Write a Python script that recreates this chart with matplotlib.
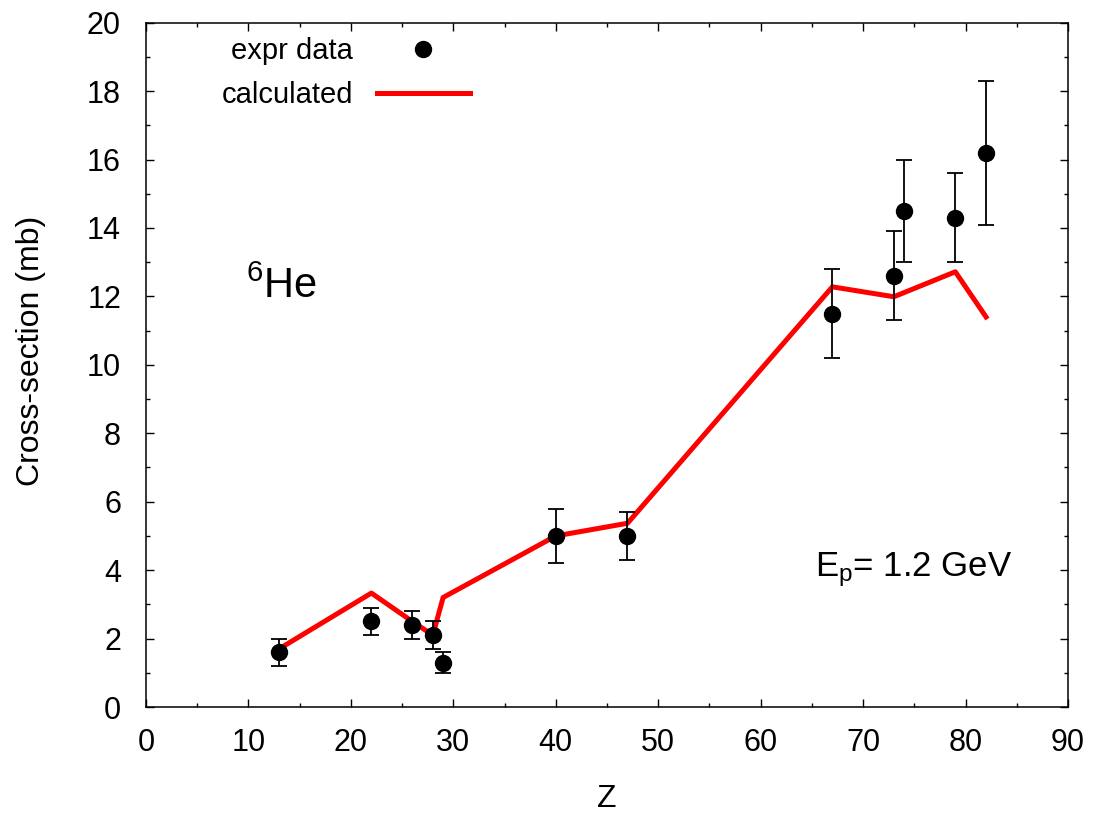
import numpy as np
import matplotlib.pyplot as plt
from matplotlib.ticker import MultipleLocator

plt.rcParams['font.family'] = ['Liberation Sans', 'DejaVu Sans']
plt.rcParams['mathtext.fontset'] = 'custom'
plt.rcParams['mathtext.rm'] = 'Liberation Sans'
plt.rcParams['mathtext.it'] = 'Liberation Sans:italic'

# experimental points
z_expr = [13, 22, 26, 28, 29, 40, 47, 67, 73, 74, 79, 82]
sigma_expr = [1.6, 2.5, 2.4, 2.1, 1.3, 5.0, 5.0, 11.5, 12.6, 14.5, 14.3, 16.2]
sigma_err = [0.4, 0.4, 0.4, 0.4, 0.3, 0.8, 0.7, 1.3, 1.3, 1.5, 1.3, 2.1]

# calculated curve
z_calc = [13, 22, 26, 28, 29, 40, 47, 67, 73, 79, 82]
sigma_calc = [1.7, 3.33, 2.5, 2.1, 3.2, 5.0, 5.37, 12.28, 11.99, 12.72, 11.4]

fig = plt.figure(figsize=(10.94, 8.13), dpi=100)
ax = fig.add_axes([146/1094, 106/813, 922/1094, 684.3/813])

calc_line, = ax.plot(z_calc, sigma_calc, color='red', lw=3.6, zorder=2)
eb = ax.errorbar(z_expr, sigma_expr, yerr=sigma_err, fmt='o', color='black',
                 ms=11.5, elinewidth=1.3, capsize=5.5, capthick=1.3, zorder=3)

ax.set_xlim(0, 90)
ax.set_ylim(0, 20)
ax.xaxis.set_major_locator(MultipleLocator(10))
ax.xaxis.set_minor_locator(MultipleLocator(5))
ax.yaxis.set_major_locator(MultipleLocator(2))
ax.yaxis.set_minor_locator(MultipleLocator(1))
ax.tick_params(which='both', direction='in', top=True, right=True, width=1)
ax.tick_params(which='major', length=6, labelsize=22)
ax.tick_params(axis='x', which='major', pad=15)
ax.tick_params(axis='y', which='major', pad=18)
ax.tick_params(which='minor', length=3)
for s in ax.spines.values():
    s.set_linewidth(1.1)

ax.set_xlabel('Z', fontsize=23)
ax.xaxis.set_label_coords(0.5, -0.112)
ax.set_ylabel('Cross-section (mb)', fontsize=23)
ax.yaxis.set_label_coords(-0.108, 0.52)

ax.text(9.8, 11.95, r'$^{6}$He', fontsize=30)
ax.text(65.3, 3.83, r'E$_\mathrm{p}$= 1.2 GeV', fontsize=25)

ax.legend([eb[0], calc_line], ['expr data', 'calculated'], loc='upper right',
          bbox_to_anchor=(470/1094, 1 - 37/813), bbox_transform=fig.transFigure,
          frameon=False, markerfirst=False, fontsize=21, handlelength=3.2,
          handletextpad=0.8, labelspacing=0.55, borderpad=0, borderaxespad=0)

fig.savefig('out.png', dpi=100)
